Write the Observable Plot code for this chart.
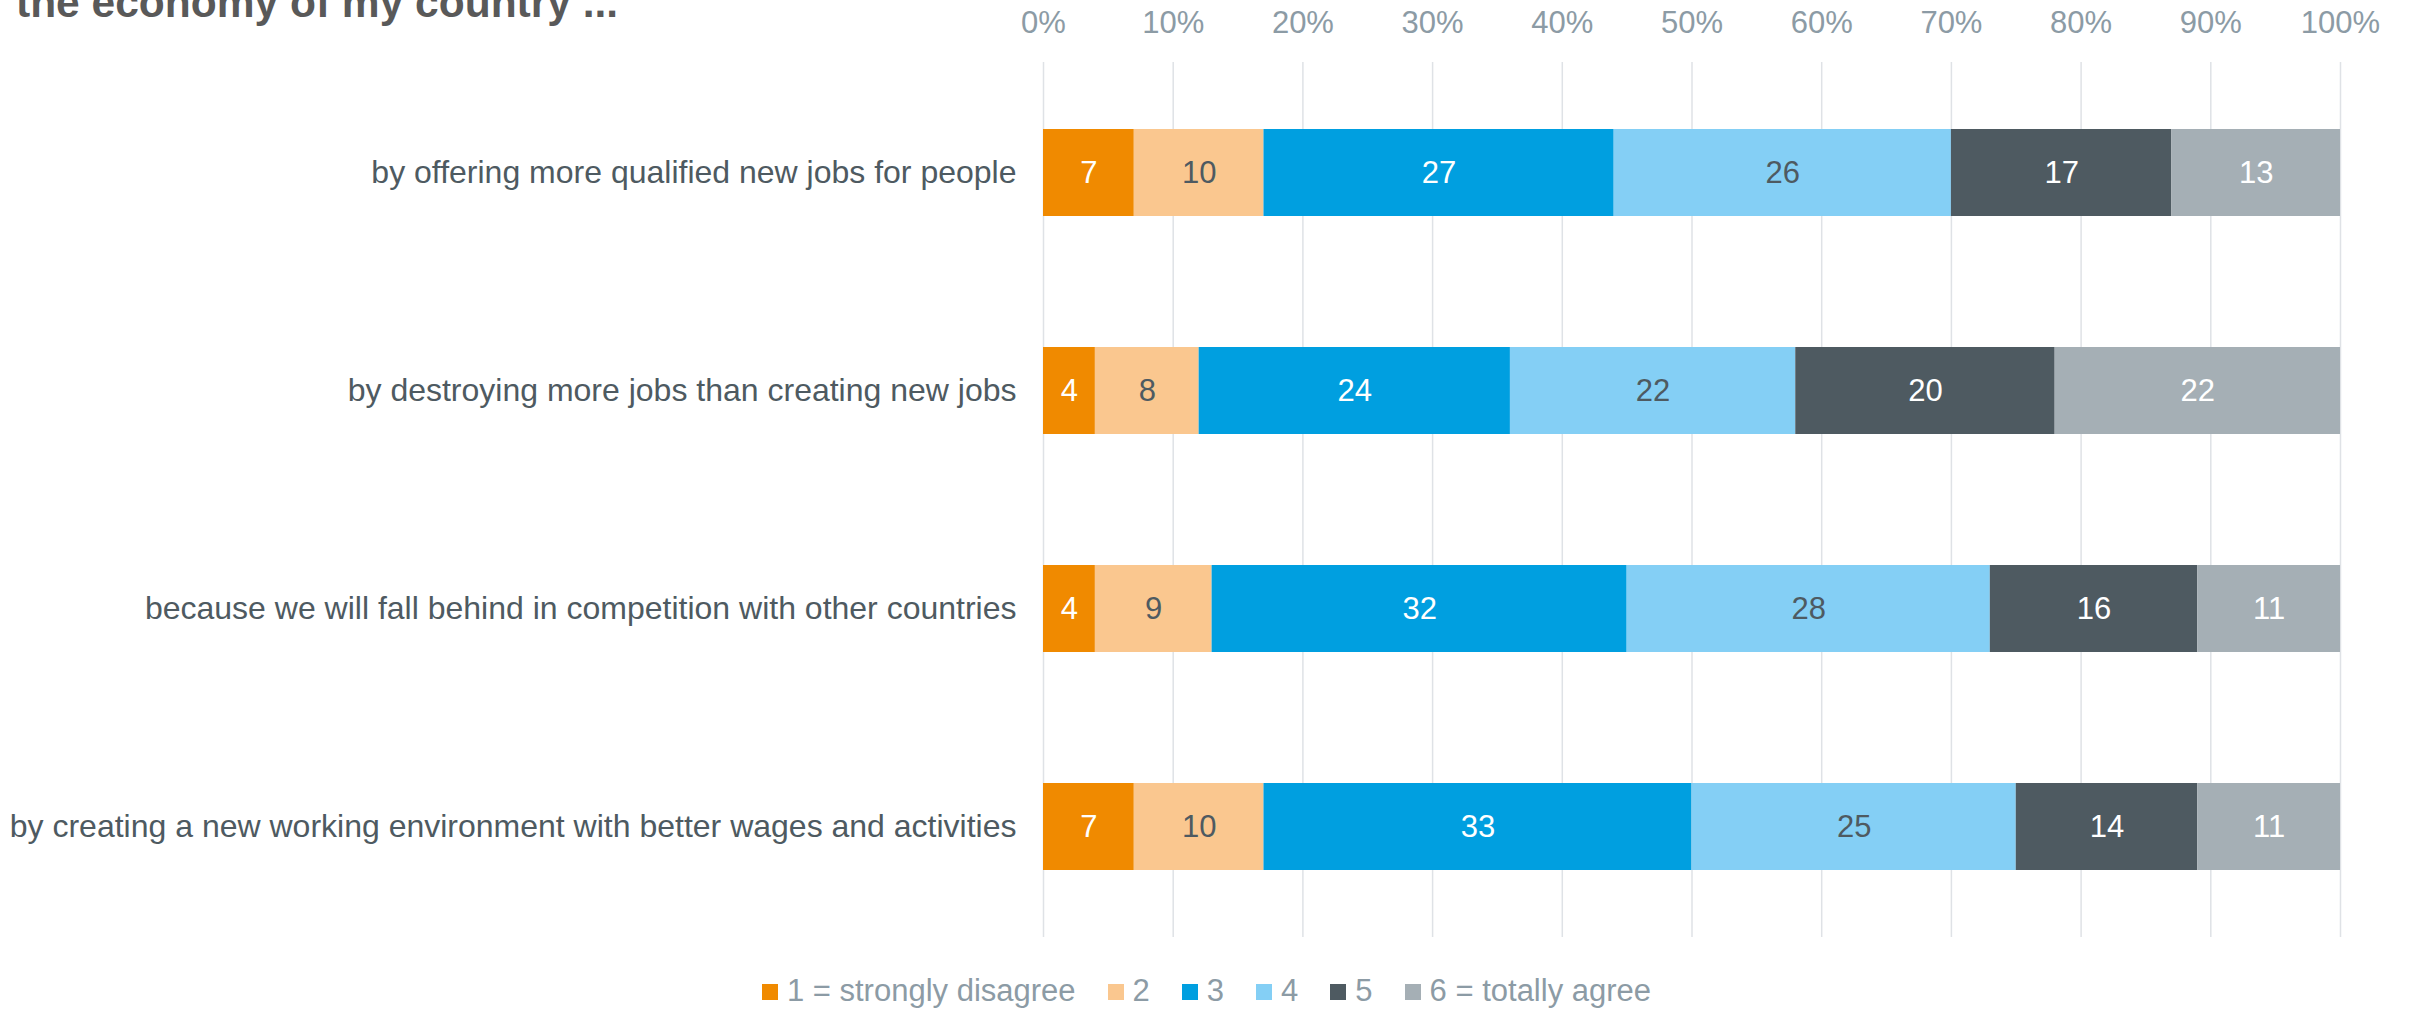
<!DOCTYPE html>
<html>
<head>
<meta charset="utf-8">
<script src="https://cdn.jsdelivr.net/npm/d3@7"></script>
<script src="https://cdn.jsdelivr.net/npm/@observablehq/plot@0.6"></script>
<style>
  html, body { margin: 0; padding: 0; background: #fff; }
  #wrap { position: relative; width: 2413px; height: 1011px; overflow: hidden; background: #fff; font-family: "Liberation Sans", Arial, sans-serif; }
  #title { position: absolute; left: 16px; top: -18px; font-size: 42.5px; line-height: 1; font-weight: bold; color: #595959; white-space: nowrap; }
  #chart { position: absolute; left: 0; top: 0; }
  #legend { position: absolute; left: 0; top: 972px; width: 2413px; text-align: center; font-size: 31px; line-height: 38px; color: #8C9BA5; white-space: nowrap; }
  #legend .item { display: inline-block; margin: 0 16px; }
  #legend .sw { display: inline-block; width: 16px; height: 16px; margin-right: 9px; vertical-align: 1px; }
</style>
</head>
<body>
<div id="wrap">
  <div id="chart"></div>
  <div id="title"></div>
  <div id="legend"></div>
</div>
<script>
const titleText = "the economy of my country ...";
const categories = [
  "by offering more qualified new jobs for people",
  "by destroying more jobs than creating new jobs",
  "because we will fall behind in competition with other countries",
  "by creating a new working environment with better wages and activities"
];
const levels = ["1 = strongly disagree", "2", "3", "4", "5", "6 = totally agree"];
const colors = ["#F08A00", "#FAC78F", "#009FE0", "#84CFF5", "#4E5A61", "#A5AFB5"];
const darkTextLevels = ["2", "4"];
const xTicks = [0, 10, 20, 30, 40, 50, 60, 70, 80, 90, 100];

// values per level, in category order
const level1 = [7, 4, 4, 7];
const level2 = [10, 8, 9, 10];
const level3 = [27, 24, 32, 33];
const level4 = [26, 22, 28, 25];
const level5 = [17, 20, 16, 14];
const level6 = [13, 22, 11, 11];
const series = [level1, level2, level3, level4, level5, level6];

const data = categories.flatMap((c, i) =>
  levels.map((l, j) => ({category: c, level: l, value: series[j][i]}))
);

document.getElementById("title").textContent = titleText;

const plot = Plot.plot({
  width: 2413,
  height: 960,
  marginTop: 62,
  marginBottom: 23,
  marginLeft: 1043,
  marginRight: 73,
  style: {fontFamily: "'Liberation Sans', Arial, sans-serif", fontSize: "31px", background: "transparent", overflow: "visible"},
  x: {domain: [0, 100]},
  y: {domain: categories, paddingInner: 0.6, paddingOuter: 0.3},
  color: {domain: levels, range: colors},
  marks: [
    Plot.gridX(xTicks, {stroke: "#DFE2E6", strokeOpacity: 1, strokeWidth: 1.5}),
    Plot.axisX(xTicks, {anchor: "top", tickSize: 0, tickPadding: 30, fill: "#8C9BA5", fontSize: 31, tickFormat: d => d + "%", label: null}),
    Plot.axisY({tickSize: 0, tickPadding: 27, fill: "#4E5A61", fontSize: 32, label: null}),
    Plot.barX(data, {x: "value", y: "category", fill: "level", z: "level"}),
    Plot.text(data, Plot.stackX({x: "value", y: "category", z: "level",
      text: d => darkTextLevels.includes(d.level) ? "" : String(d.value), fill: "#FFFFFF", fontSize: 31})),
    Plot.text(data, Plot.stackX({x: "value", y: "category", z: "level",
      text: d => darkTextLevels.includes(d.level) ? String(d.value) : "", fill: "#4E5A61", fontSize: 31}))
  ]
});
document.getElementById("chart").appendChild(plot);

const legend = document.getElementById("legend");
levels.forEach((l, j) => {
  const item = document.createElement("span");
  item.className = "item";
  const sw = document.createElement("span");
  sw.className = "sw";
  sw.style.background = colors[j];
  item.appendChild(sw);
  item.appendChild(document.createTextNode(l));
  legend.appendChild(item);
});
</script>
</body>
</html>
